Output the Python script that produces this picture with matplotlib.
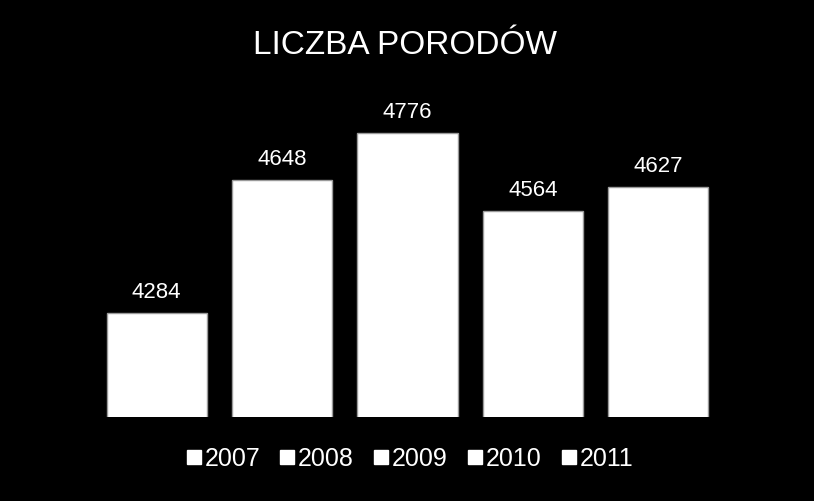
import matplotlib
matplotlib.use("Agg")
import matplotlib.pyplot as plt
from matplotlib.lines import Line2D

plt.rcParams['font.family'] = ['Liberation Sans', 'DejaVu Sans']

title = "LICZBA PORODÓW"
years = ["2007", "2008", "2009", "2010", "2011"]
births = [4284, 4648, 4776, 4564, 4627]

fig = plt.figure(figsize=(8.14, 5.01), dpi=100, facecolor='black')
ax = fig.add_axes([94/814, (501-417)/501, (721-94)/814, (417-87.5)/501])
ax.set_facecolor('black')

xs = list(range(len(years)))
bars = ax.bar(xs, births, width=0.8, bottom=0, color='white',
              edgecolor='#9a9a9a', linewidth=1.0)
ax.set_xlim(-0.5, len(years) - 0.5)
ax.set_ylim(4000, 4900)
for x, v in zip(xs, births):
    ax.annotate(f"{v}", (x, v), xytext=(0, 10), textcoords='offset pixels',
                ha='center', va='bottom', color='white', fontsize=16)

for s in ax.spines.values():
    s.set_visible(False)
ax.set_xticks([])
ax.set_yticks([])

fig.text(405/814, 1 - 46/501, title, ha='center', va='center', color='white', fontsize=24)

handles = [Line2D([], [], linestyle='none', marker='s', markersize=9.5,
                  markerfacecolor='white', markeredgecolor='white') for _ in years]
leg = fig.legend(handles, years, loc='center', bbox_to_anchor=(410/814, 1 - 459/501),
                 ncol=5, frameon=False, fontsize=18, labelcolor='white',
                 handlelength=0.55, handletextpad=0.15, columnspacing=0.82,
                 borderaxespad=0, borderpad=0)

fig.savefig("out.png", dpi=100, facecolor='black')
